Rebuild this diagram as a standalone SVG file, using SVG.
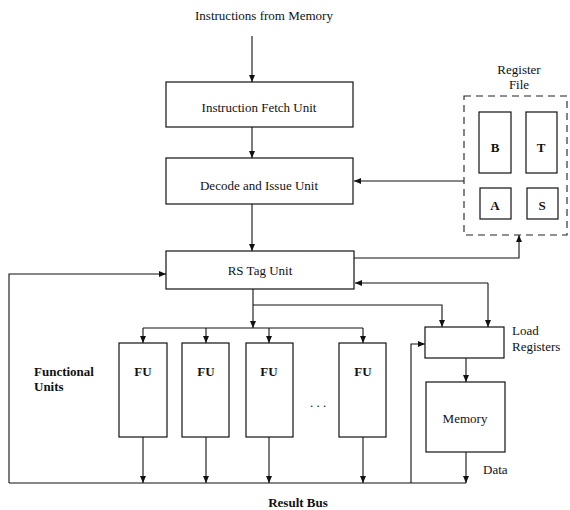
<svg xmlns="http://www.w3.org/2000/svg" width="570" height="510" viewBox="0 0 570 510" font-family="'Liberation Serif', 'Times New Roman', 'DejaVu Serif', serif">
<defs>
<marker id="ah" markerWidth="8" markerHeight="8" refX="7" refY="4" orient="auto" markerUnits="userSpaceOnUse">
<path d="M0,1 L7,4 L0,7 Z" fill="#111"/>
</marker>
<style>
text{font-family:"Liberation Serif","Times New Roman","DejaVu Serif",serif;font-size:13px;fill:#111}
.c{text-anchor:middle}
.b{font-weight:bold}
.box{fill:#fff;stroke:#111;stroke-width:1.2}
.dash{fill:none;stroke:#222;stroke-width:1.1;stroke-dasharray:7,5}
.ln{fill:none;stroke:#111;stroke-width:1.1}
.ar{fill:none;stroke:#111;stroke-width:1.1;marker-end:url(#ah)}
</style>
</defs>
<rect width="570" height="510" fill="#fff"/>
<text class="c" x="264" y="20">Instructions from Memory</text>
<g id="connectors">
<path class="ar" d="M252,36 L252,82"/>
<path class="ar" d="M252,127 L252,158"/>
<path class="ar" d="M464,181 L354,181"/>
<path class="ar" d="M252,204 L252,251"/>
<path class="ar" d="M354,258 L519,258 L519,235"/>
<path class="ar" d="M488,283 L355,283"/>
<path class="ar" d="M488,283 L488,327"/>
<path class="ar" d="M9,483 L9,274 L166,274"/>
<path class="ar" d="M253,289 L253,328"/>
<path class="ar" d="M253,305 L442,305 L442,327"/>
<path class="ln" d="M143,328 L363,328"/>
<path class="ar" d="M143,328 L143,343"/>
<path class="ar" d="M206,328 L206,343"/>
<path class="ar" d="M269,328 L269,343"/>
<path class="ar" d="M363,328 L363,343"/>
<path class="ar" d="M143,437 L143,483"/>
<path class="ar" d="M206,437 L206,483"/>
<path class="ar" d="M269,437 L269,483"/>
<path class="ar" d="M363,437 L363,483"/>
<path class="ln" d="M9,483 L466,483"/>
<path class="ar" d="M411,483 L411,344 L425,344"/>
<path class="ar" d="M466,358 L466,382"/>
<path class="ar" d="M466,452 L466,483"/>
</g>
<g id="ifu"><rect class="box" x="166" y="82" width="187" height="45"/><text class="c" x="259" y="112">Instruction Fetch Unit</text></g>
<g id="decode"><rect class="box" x="166" y="158" width="187" height="46"/><text class="c" x="259" y="190">Decode and Issue Unit</text></g>
<g id="rstag"><rect class="box" x="166" y="251" width="188" height="38"/><text class="c" x="260" y="275">RS Tag Unit</text></g>
<g id="regfile">
<text class="c" x="519" y="74">Register</text>
<text class="c" x="519" y="89">File</text>
<rect class="dash" x="464" y="96" width="103" height="139"/>
<rect class="box" x="479" y="112" width="32" height="61"/><text class="c b" x="495" y="152">B</text>
<rect class="box" x="526" y="112" width="31" height="61"/><text class="c b" x="541" y="152">T</text>
<rect class="box" x="480" y="188" width="31" height="31"/><text class="c b" x="495" y="210">A</text>
<rect class="box" x="527" y="188" width="31" height="31"/><text class="c b" x="542" y="210">S</text>
</g>
<g id="fu-label"><text class="b" x="34" y="376">Functional</text><text class="b" x="34" y="391">Units</text></g>
<g id="fu1"><rect class="box" x="119" y="343" width="48" height="94"/><text class="c b" x="143" y="376">FU</text></g>
<g id="fu2"><rect class="box" x="182" y="343" width="47" height="94"/><text class="c b" x="206" y="376">FU</text></g>
<g id="fu3"><rect class="box" x="246" y="343" width="47" height="94"/><text class="c b" x="269" y="376">FU</text></g>
<text class="c" x="318" y="407">. . .</text>
<g id="fu4"><rect class="box" x="339" y="343" width="47" height="94"/><text class="c b" x="363" y="376">FU</text></g>
<g id="loadreg"><rect class="box" x="425" y="327" width="79" height="31"/><text x="512" y="335">Load</text><text x="512" y="351">Registers</text></g>
<g id="memory"><rect class="box" x="426" y="382" width="79" height="70"/><text class="c" x="465" y="423">Memory</text></g>
<text x="483" y="474">Data</text>
<text class="c b" x="298" y="507">Result Bus</text>
</svg>
